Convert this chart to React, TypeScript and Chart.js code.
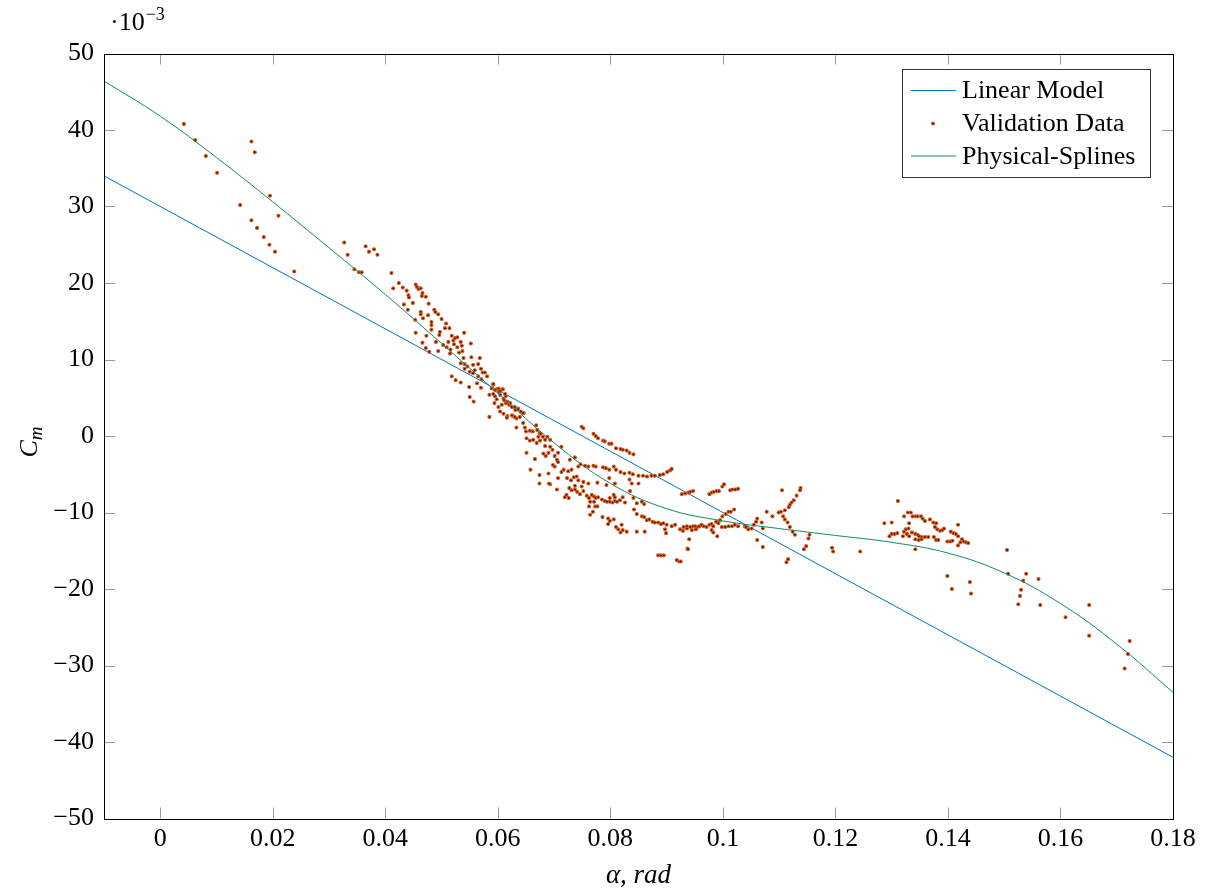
import { useEffect, useRef } from "react";
import { Chart, registerables } from "chart.js";

Chart.register(...registerables);

const X_TICKS = [0, 0.02, 0.04, 0.06, 0.08, 0.1, 0.12, 0.14, 0.16, 0.18];
const Y_TICKS = [-50, -40, -30, -20, -10, 0, 10, 20, 30, 40, 50];

const LINEAR_ALPHA = [-0.01, 0.18];
const LINEAR_CM = [34.0, -42.0];

const SPLINE_ALPHA = [-0.01, 0, 0.01, 0.02, 0.03, 0.04, 0.05, 0.06, 0.07, 0.08, 0.09, 0.1, 0.11, 0.12, 0.13, 0.14, 0.15, 0.16, 0.17, 0.18];
const SPLINE_CM = [46.4, 41.8, 36.4, 30.6, 24.6, 18.5, 12.1, 5.6, -0.9, -6.2, -9.5, -11.1, -12.1, -13.0, -13.9, -15.3, -17.9, -21.9, -27.2, -33.5];

const VAL_EARLY: number[][] = [
  [0.0042, 40.8], [0.0062, 38.7], [0.0081, 36.6], [0.0101, 34.4], [0.0162, 38.5], [0.0168, 37.1],
  [0.0195, 31.4], [0.0142, 30.2], [0.0162, 28.2], [0.0172, 27.2], [0.0184, 26.0], [0.0194, 25.0],
  [0.0204, 24.1], [0.021, 28.8], [0.0238, 21.5], [0.0327, 25.3], [0.0333, 23.7], [0.0345, 21.8],
  [0.0353, 21.4], [0.0358, 21.4], [0.0365, 24.8], [0.0371, 24.1], [0.038, 24.4], [0.0386, 23.7],
  [0.0411, 21.3], [0.0424, 20.0], [0.0414, 19.3], [0.0431, 19.4], [0.0454, 19.8], [0.0457, 19.4],
];

const VAL_STEEP: number[][] = [
  [0.0438, 19.0], [0.0441, 18.4], [0.0442, 18.1], [0.0433, 17.2], [0.0449, 17.4], [0.044, 16.5],
  [0.0456, 19.5], [0.0459, 19.2], [0.0463, 19.3], [0.0466, 18.7], [0.0465, 18.3], [0.0472, 18.2],
  [0.0463, 16.2], [0.0463, 15.9], [0.0453, 15.2], [0.0467, 15.4], [0.0477, 17.3], [0.0476, 15.8],
  [0.0487, 16.5], [0.0489, 16.2], [0.0494, 15.9], [0.0482, 14.9], [0.0482, 14.5], [0.05, 15.3],
  [0.0508, 14.7], [0.0506, 14.1], [0.0514, 14.1], [0.0482, 13.9], [0.0454, 13.5], [0.0473, 13.1],
  [0.0497, 13.6], [0.0496, 13.2], [0.049, 12.3], [0.0466, 12.2], [0.0472, 11.5], [0.0478, 11.0],
  [0.0494, 11.1], [0.0503, 11.9], [0.0512, 12.3], [0.0518, 13.1], [0.0521, 12.5], [0.0524, 12.8],
  [0.0528, 12.9], [0.0534, 12.3], [0.0522, 12.0], [0.0528, 11.6], [0.0536, 11.8], [0.0516, 11.3],
  [0.0509, 11.6], [0.0515, 10.8], [0.0531, 10.9], [0.0537, 11.1], [0.054, 13.5], [0.0552, 12.1],
  [0.0539, 10.2], [0.0534, 9.5], [0.0541, 9.4], [0.0546, 9.1], [0.0553, 10.3], [0.0556, 9.3],
  [0.0541, 8.8], [0.055, 8.4], [0.0559, 8.6], [0.0565, 9.4], [0.0568, 10.2], [0.057, 8.8],
  [0.0573, 8.3], [0.0577, 8.3], [0.0581, 7.8], [0.0565, 7.8], [0.0571, 7.4], [0.0556, 8.2],
  [0.0563, 6.9], [0.057, 6.3], [0.0518, 7.8], [0.0525, 7.3], [0.0534, 7.0], [0.0549, 6.4],
  [0.055, 5.1], [0.0557, 4.5], [0.0585, 5.4], [0.0592, 6.7], [0.0589, 6.2], [0.0598, 6.1],
  [0.0602, 5.8], [0.0607, 6.1], [0.0595, 5.2], [0.0598, 4.8], [0.0604, 5.4], [0.061, 4.9],
  [0.0614, 5.2], [0.0594, 4.3], [0.0601, 3.8], [0.0607, 4.1], [0.0614, 4.3], [0.062, 4.1],
  [0.0625, 3.8], [0.0631, 3.4], [0.0636, 3.6], [0.0641, 3.2], [0.0646, 3.0], [0.0604, 3.2],
  [0.061, 2.9], [0.0617, 2.6], [0.0627, 2.6], [0.0585, 2.5], [0.0633, 2.3],
];

const VAL_KNEE: number[][] = [
  [0.0592, 6.8], [0.0595, 6.0], [0.0601, 6.2], [0.0604, 5.9], [0.0609, 6.1], [0.0592, 5.5],
  [0.0613, 5.5], [0.0611, 4.7], [0.0617, 4.5], [0.0622, 4.3], [0.063, 3.8], [0.0636, 3.5],
  [0.0645, 3.0], [0.0616, 2.4], [0.0625, 2.7], [0.063, 2.5], [0.0639, 2.5], [0.0633, 1.1],
  [0.0645, 1.7], [0.0648, 1.1], [0.065, 0.6], [0.0657, 0.7], [0.0662, 0.6], [0.0668, 1.4],
  [0.067, 0.8], [0.0674, 0.4], [0.0676, 0.3], [0.0672, -0.1], [0.068, -0.1], [0.0684, -0.5],
  [0.0688, -0.1], [0.0693, -0.5], [0.0651, -0.3], [0.0657, -0.6], [0.0663, -0.5], [0.0669, -0.9],
  [0.0675, -0.6], [0.0684, -1.3], [0.0693, -1.4], [0.0697, -1.8], [0.069, -2.2], [0.0681, -2.3],
  [0.0685, -2.6], [0.0701, -2.6], [0.0705, -3.1], [0.0707, -2.2], [0.0713, -1.4], [0.0651, -2.2],
  [0.0707, -3.4], [0.0728, -3.1], [0.0737, -2.8], [0.0698, -3.8], [0.0701, -4.0], [0.069, -4.9],
  [0.0707, -5.5], [0.0723, -5.5], [0.0666, -3.0], [0.0658, -4.4], [0.0674, -5.1], [0.0693, -6.3],
  [0.0705, -7.0], [0.0719, -8.0], [0.0691, -6.2], [0.0674, -6.2],
];

const VAL_UPPER: number[][] = [
  [0.0749, 1.2], [0.0752, 1.0], [0.077, 0.3], [0.0774, 0.0], [0.0778, -0.3], [0.0787, -0.6],
  [0.079, -0.7], [0.0798, -1.0], [0.0802, -1.0], [0.081, -1.6], [0.0818, -1.7], [0.0822, -1.8],
  [0.0829, -1.9], [0.0834, -2.2], [0.0841, -2.4],
];

const VAL_MIDDLE: number[][] = [
  [0.0743, -4.0], [0.0747, -3.7], [0.0755, -3.9], [0.0761, -4.0], [0.077, -3.9], [0.0774, -4.0],
  [0.0787, -4.1], [0.0792, -4.2], [0.0798, -4.4], [0.0806, -4.0], [0.081, -4.4], [0.0818, -4.7],
  [0.0825, -4.9], [0.0834, -4.8], [0.084, -5.0], [0.085, -5.2], [0.0858, -5.2], [0.0865, -5.3],
  [0.0873, -5.2], [0.0879, -5.2], [0.0888, -5.1], [0.0894, -5.0], [0.0901, -4.7], [0.0906, -4.5],
  [0.0909, -4.3], [0.0725, -4.6], [0.0717, -4.4], [0.0713, -4.7], [0.0731, -4.4], [0.074, -5.3],
  [0.0735, -5.4], [0.0743, -5.8], [0.0752, -6.0], [0.0761, -6.2], [0.0777, -6.1], [0.0798, -5.5],
  [0.0793, -6.4], [0.0808, -6.2], [0.0834, -5.7], [0.0838, -6.2], [0.0835, -7.2], [0.085, -6.2],
];

const VAL_LOWER: number[][] = [
  [0.0727, -6.8], [0.0731, -7.1], [0.0737, -7.0], [0.0741, -7.3], [0.0746, -7.6], [0.0752, -7.2],
  [0.0758, -7.8], [0.0762, -8.1], [0.0767, -7.7], [0.0771, -7.9], [0.0774, -8.1], [0.0778, -8.0],
  [0.0785, -8.3], [0.079, -8.5], [0.0794, -8.6], [0.0799, -8.6], [0.0804, -8.7], [0.0808, -8.5],
  [0.0812, -8.6], [0.0817, -8.4], [0.0822, -8.0], [0.0826, -8.7], [0.0764, -8.6], [0.0762, -9.2],
  [0.0773, -9.2], [0.0771, -8.6], [0.0806, -7.7], [0.0808, -8.0], [0.0799, -8.1], [0.073, -5.8],
  [0.0737, -6.5], [0.0722, -7.7], [0.0726, -8.1], [0.0749, -6.6],
  [0.0841, -8.1], [0.0847, -8.8], [0.0856, -8.6], [0.086, -8.9], [0.0842, -9.6], [0.0847, -10.2],
  [0.0856, -10.5], [0.086, -10.6], [0.0865, -11.0], [0.0869, -10.9], [0.0875, -11.2], [0.0879, -11.3],
  [0.0885, -11.3], [0.089, -11.5], [0.0894, -11.4], [0.09, -11.6], [0.0909, -11.8], [0.0915, -11.6],
  [0.0924, -12.2], [0.0929, -12.4], [0.0936, -12.1], [0.0897, -12.2], [0.0899, -12.7], [0.0861, -12.5],
  [0.0847, -12.5], [0.0829, -12.5], [0.0822, -12.3], [0.0814, -12.2], [0.081, -11.9], [0.0799, -11.1],
  [0.0806, -10.9], [0.0796, -10.8], [0.0786, -10.6], [0.0796, -11.5], [0.0764, -10.3], [0.0769, -9.9],
  [0.0777, -9.2], [0.082, -11.6], [0.0818, -12.6], [0.094, -13.5],
  [0.0885, -15.6], [0.089, -15.6], [0.0895, -15.6], [0.0918, -16.2], [0.0922, -16.4], [0.0937, -14.7],
];

const VAL_PLATEAU: number[][] = [
  [0.0927, -7.6], [0.0933, -7.5], [0.0939, -7.4], [0.0942, -7.3], [0.0947, -7.2], [0.0976, -7.6],
  [0.098, -7.4], [0.0984, -7.3], [0.0989, -7.2], [0.0993, -7.2], [0.0999, -6.6], [0.1002, -6.3],
  [0.1013, -7.1], [0.1017, -7.0], [0.1022, -7.0], [0.1027, -6.9], [0.1105, -7.1], [0.1138, -6.8],
  [0.1137, -7.1], [0.1131, -7.8], [0.1126, -8.4], [0.1122, -8.7], [0.1119, -9.0], [0.1117, -9.3],
  [0.111, -9.7], [0.1103, -9.9], [0.1099, -10.0], [0.1078, -9.9], [0.1088, -10.5], [0.1107, -10.5],
  [0.111, -10.9], [0.1115, -11.3], [0.1119, -11.9], [0.1124, -12.5], [0.1128, -12.9], [0.1154, -12.9],
  [0.1152, -13.4], [0.1148, -14.4], [0.1144, -14.8], [0.1116, -16.1], [0.1113, -16.5], [0.1069, -11.3],
  [0.1071, -12.1], [0.1061, -13.6], [0.1071, -14.5], [0.0938, -14.8], [0.0925, -16.4], [0.093, -11.9],
  [0.0936, -11.8], [0.0942, -11.9], [0.0947, -11.8], [0.0951, -11.8], [0.0955, -11.9], [0.0958, -11.8],
  [0.0962, -11.6], [0.0966, -11.8], [0.0971, -11.9], [0.0976, -11.6], [0.098, -11.5], [0.0983, -11.8],
  [0.0988, -11.2], [0.0992, -11.4], [0.0998, -11.9], [0.1004, -11.9], [0.101, -11.8], [0.1016, -11.8],
  [0.1021, -11.6], [0.1027, -11.8], [0.1039, -11.8], [0.1045, -12.2], [0.1051, -12.1], [0.1055, -11.6],
  [0.1059, -11.2], [0.1061, -10.8], [0.1041, -11.9], [0.0945, -12.3], [0.0952, -12.2], [0.098, -12.3],
  [0.0983, -12.6], [0.099, -13.1], [0.0995, -11.0], [0.0999, -10.5], [0.1005, -10.2], [0.101, -9.9],
  [0.1014, -9.9], [0.102, -9.6], [0.1194, -14.6], [0.1196, -15.1],
];

const VAL_HIGH: number[][] = [
  [0.1244, -15.1], [0.1311, -8.5], [0.1287, -11.4], [0.13, -11.3], [0.1296, -13.1], [0.13, -12.8],
  [0.1305, -12.8], [0.131, -12.7], [0.132, -13.1], [0.1322, -12.5], [0.1325, -12.2], [0.133, -12.1],
  [0.1327, -12.8], [0.1331, -13.1], [0.1336, -12.6], [0.1342, -12.8], [0.1346, -12.9], [0.1349, -13.1],
  [0.1353, -13.2], [0.1359, -13.2], [0.1365, -13.2], [0.1342, -13.5], [0.1348, -13.6], [0.1353, -13.5],
  [0.1331, -11.4], [0.1322, -10.5], [0.1329, -10.0], [0.1334, -10.0], [0.1337, -10.5], [0.1342, -10.5],
  [0.1346, -10.5], [0.1352, -10.5], [0.1355, -10.8], [0.1359, -11.1], [0.1368, -10.9], [0.1374, -11.3],
  [0.1379, -11.4], [0.1377, -11.9], [0.1381, -12.2], [0.1386, -12.4], [0.139, -12.3], [0.1393, -12.1],
  [0.1375, -13.2], [0.1379, -13.6], [0.1383, -13.6], [0.1399, -13.8], [0.1404, -13.8], [0.1408, -13.7],
  [0.1405, -12.5], [0.141, -12.7], [0.1414, -12.8], [0.1418, -11.6], [0.1418, -13.1], [0.1425, -13.5],
  [0.1428, -13.8], [0.1432, -13.9], [0.1436, -14.0], [0.1422, -13.9], [0.1418, -14.3], [0.1342, -14.8],
  [0.1399, -18.3], [0.1407, -20.0], [0.1439, -19.1], [0.1441, -20.6], [0.1505, -14.9], [0.1507, -18.0],
  [0.1539, -18.0], [0.1534, -18.9], [0.153, -20.1], [0.1528, -20.9], [0.1525, -22.0], [0.1561, -18.7],
  [0.1564, -22.1], [0.1609, -23.7], [0.1651, -22.1], [0.1651, -26.1], [0.1723, -26.8], [0.172, -28.5],
  [0.1714, -30.4],
];

const BLUE = "#0072bd";
const GREEN = "#128a60";
const ORANGE = "#dc5a1e";
const DARK = "#4a1000";
const SERIF = "'Liberation Serif', 'DejaVu Serif', serif";

const toXY = (xs: number[], ys: number[]) => xs.map((x, i) => ({ x, y: ys[i] }));
const pairs = (...groups: number[][][]) => groups.flat().map(([x, y]) => ({ x, y }));

const fmtX = (v: number) => String(parseFloat(v.toFixed(2)));
const fmtY = (v: number) => (v < 0 ? "\u2212" + Math.abs(v) : String(v));

export default function App() {
  const ref = useRef<HTMLCanvasElement | null>(null);

  useEffect(() => {
    const canvas = ref.current;
    if (!canvas) return;

    const frame = {
      id: "frame",
      afterDraw(chart: any) {
        const { ctx, chartArea: a, scales } = chart;
        const xs = scales.x;
        const ys = scales.y;
        const line = (x1: number, y1: number, x2: number, y2: number) => {
          ctx.beginPath();
          ctx.moveTo(x1, y1);
          ctx.lineTo(x2, y2);
          ctx.stroke();
        };
        ctx.save();
        // inward tick marks on all four sides
        ctx.strokeStyle = "#9a9a9a";
        ctx.lineWidth = 1;
        const tl = 11;
        X_TICKS.forEach((v) => {
          const px = Math.round(xs.getPixelForValue(v)) + 0.5;
          if (px <= a.left + 1 || px >= a.right - 1) return;
          line(px, a.bottom, px, a.bottom - tl);
          line(px, a.top, px, a.top + tl);
        });
        Y_TICKS.forEach((v) => {
          const py = Math.round(ys.getPixelForValue(v)) + 0.5;
          if (py <= a.top + 1 || py >= a.bottom - 1) return;
          line(a.left, py, a.left + tl, py);
          line(a.right, py, a.right - tl, py);
        });
        // frame
        ctx.strokeStyle = "#000";
        ctx.lineWidth = 1;
        ctx.strokeRect(Math.round(a.left) + 0.5, Math.round(a.top) + 0.5, Math.round(a.right - a.left), Math.round(a.bottom - a.top));

        // exponent label
        ctx.fillStyle = "#000";
        ctx.textBaseline = "alphabetic";
        ctx.textAlign = "left";
        ctx.font = `26px ${SERIF}`;
        const base = "\u00b710";
        ctx.fillText(base, 110, 30);
        const bw = ctx.measureText(base).width;
        ctx.font = `18px ${SERIF}`;
        ctx.fillText("\u22123", 110 + bw + 1, 20);

        // x axis title
        ctx.font = `italic 27px ${SERIF}`;
        ctx.textAlign = "center";
        ctx.fillText("\u03b1, rad", (a.left + a.right) / 2, 883);

        // y axis title C_m
        ctx.save();
        ctx.translate(37, 442);
        ctx.rotate(-Math.PI / 2);
        ctx.textAlign = "left";
        ctx.font = `italic 26px ${SERIF}`;
        const cw = ctx.measureText("C").width;
        ctx.font = `italic 19px ${SERIF}`;
        const mw = ctx.measureText("m").width;
        const start = -(cw + mw) / 2;
        ctx.font = `italic 26px ${SERIF}`;
        ctx.fillText("C", start, 0);
        ctx.font = `italic 19px ${SERIF}`;
        ctx.fillText("m", start + cw, 5);
        ctx.restore();

        // legend
        const lx = 902.5, ly = 69.5, lw = 248, lh = 108;
        ctx.fillStyle = "#fff";
        ctx.fillRect(lx, ly, lw, lh);
        ctx.strokeStyle = "#333";
        ctx.strokeRect(lx, ly, lw, lh);
        const ds = chart.data.datasets;
        const rows = [
          { ds: ds[2], kind: "line", base: 98 },
          { ds: ds[1], kind: "dot", base: 131 },
          { ds: ds[0], kind: "line", base: 163.5 },
        ];
        rows.forEach((r) => {
          const cy = r.base - 7.5;
          if (r.kind === "line") {
            ctx.strokeStyle = r.ds.borderColor;
            ctx.lineWidth = 1;
            line(911, cy, 956, cy);
          } else {
            ctx.beginPath();
            ctx.arc(933, cy, 1.5, 0, Math.PI * 2);
            ctx.fillStyle = r.ds.backgroundColor;
            ctx.fill();
            ctx.strokeStyle = r.ds.borderColor;
            ctx.lineWidth = 1.1;
            ctx.stroke();
          }
          ctx.fillStyle = "#000";
          ctx.font = `26px ${SERIF}`;
          ctx.textAlign = "left";
          ctx.fillText(r.ds.label, 962, r.base);
        });
        ctx.restore();
      },
    };

    const chart = new Chart(canvas, {
      type: "scatter",
      data: {
        datasets: [
          {
            label: "Physical-Splines",
            data: toXY(SPLINE_ALPHA, SPLINE_CM),
            showLine: true,
            borderColor: GREEN,
            backgroundColor: GREEN,
            borderWidth: 1,
            pointRadius: 0,
            tension: 0.4,
            order: 0,
          },
          {
            label: "Validation Data",
            data: pairs(VAL_EARLY, VAL_STEEP, VAL_KNEE, VAL_UPPER, VAL_MIDDLE, VAL_LOWER, VAL_PLATEAU, VAL_HIGH),
            showLine: false,
            pointRadius: 1.5,
            borderWidth: 1.1,
            backgroundColor: DARK,
            borderColor: ORANGE,
            order: 1,
          },
          {
            label: "Linear Model",
            data: toXY(LINEAR_ALPHA, LINEAR_CM),
            showLine: true,
            borderColor: BLUE,
            backgroundColor: BLUE,
            borderWidth: 1,
            pointRadius: 0,
            order: 2,
          },
        ],
      } as any,
      options: {
        responsive: false,
        animation: false,
        devicePixelRatio: 1,
        events: [],
        layout: { padding: { top: 53.5, right: 33, left: 0, bottom: 0 } },
        plugins: { legend: { display: false }, tooltip: { enabled: false } },
        scales: {
          x: {
            type: "linear",
            min: -0.01,
            max: 0.18,
            afterBuildTicks: (s: any) => {
              s.ticks = X_TICKS.map((v) => ({ value: v }));
            },
            afterFit: (s: any) => {
              s.height = 73.5;
            },
            grid: { display: false, drawTicks: false },
            border: { display: false },
            ticks: {
              autoSkip: false,
              maxRotation: 0,
              minRotation: 0,
              padding: 5,
              color: "#000",
              font: { family: SERIF, size: 26 },
              callback: (v: any) => fmtX(Number(v)),
            },
          },
          y: {
            type: "linear",
            min: -50,
            max: 50,
            afterBuildTicks: (s: any) => {
              s.ticks = Y_TICKS.map((v) => ({ value: v }));
            },
            afterFit: (s: any) => {
              s.width = 104;
            },
            grid: { display: false, drawTicks: false },
            border: { display: false },
            ticks: {
              autoSkip: false,
              padding: 10,
              color: "#000",
              font: { family: SERIF, size: 26 },
              callback: (v: any) => fmtY(Number(v)),
            },
          },
        },
      } as any,
      plugins: [frame],
    });

    return () => chart.destroy();
  }, []);

  return (
    <div style={{ position: "fixed", left: 0, top: 0, width: 1206, height: 892, background: "#fff" }}>
      <canvas ref={ref} width={1206} height={892} style={{ display: "block" }} />
    </div>
  );
}
